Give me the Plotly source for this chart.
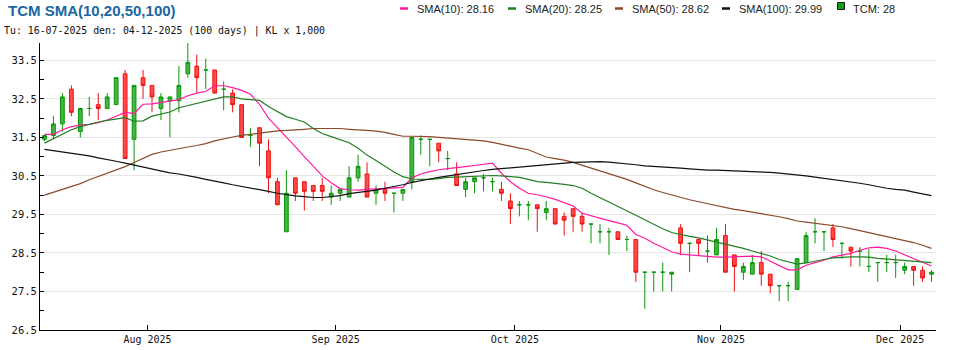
import pandas as pd
import plotly.graph_objects as go

# Trading sessions (HOSE), 16-07-2025 .. 04-12-2025, National Day holidays removed
dates = [d for d in pd.bdate_range("2025-07-16", "2025-12-04")
         if d.strftime("%Y-%m-%d") not in ("2025-09-01", "2025-09-02")]

# Prices in thousands of VND
opens = [31.45, 31.55, 31.85, 32.75, 31.65, 32.25, 32.35, 32.25, 32.35, 33.15,
         31.45, 33.05, 32.85, 32.25, 32.45, 32.45, 33.15, 33.35, 33.25, 33.25,
         32.75, 32.65, 32.35, 31.55, 31.75, 31.15, 30.35, 29.05, 30.45, 30.35,
         30.25, 30.25, 29.95, 30.05, 29.95, 30.45, 30.55, 30.05, 30.15, 30.05,
         30.05, 30.35, 31.45, 31.45, 31.35, 30.95, 30.55, 30.15, 30.35, 30.45,
         30.35, 30.15, 29.85, 29.75, 29.75, 29.75, 29.55, 29.65, 29.45, 29.65,
         29.45, 29.25, 29.05, 29.05, 29.05, 28.85, 28.85, 28.00, 28.00, 28.00,
         27.95, 29.15, 28.75, 28.85, 28.55, 28.45, 28.95, 28.45, 28.00, 27.95,
         28.25, 27.95, 27.65, 27.65, 27.55, 28.25, 29.05, 29.05, 29.15, 28.75,
         28.65, 28.55, 28.15, 28.25, 28.25, 28.25, 28.05, 28.15, 28.05, 27.95]
highs = [31.55, 32.05, 32.65, 32.85, 32.25, 32.55, 32.65, 32.65, 33.05, 33.25,
         32.85, 33.25, 32.85, 32.65, 32.55, 33.35, 33.95, 33.65, 33.55, 33.25,
         32.95, 32.75, 32.35, 31.75, 31.75, 31.45, 30.45, 30.65, 30.45, 30.35,
         30.25, 30.45, 30.25, 30.15, 30.75, 31.05, 30.85, 30.25, 30.35, 30.05,
         30.15, 31.50, 31.55, 31.45, 31.35, 31.15, 30.85, 30.45, 30.45, 30.55,
         30.45, 30.35, 30.05, 29.85, 29.85, 29.75, 29.85, 29.65, 29.55, 29.65,
         29.55, 29.25, 29.25, 29.15, 29.05, 28.95, 28.85, 28.00, 28.00, 28.25,
         28.00, 29.25, 28.75, 28.85, 28.95, 29.15, 29.25, 28.45, 28.25, 28.45,
         28.55, 27.95, 27.65, 27.75, 28.35, 29.05, 29.40, 29.05, 29.25, 28.75,
         28.65, 28.65, 28.60, 28.25, 28.45, 28.45, 28.25, 28.15, 28.15, 28.05]
lows = [31.40, 31.45, 31.65, 32.05, 31.50, 32.05, 31.95, 32.25, 32.35, 30.95,
        30.65, 32.50, 32.15, 31.95, 31.50, 32.15, 33.05, 32.65, 32.75, 32.65,
        32.20, 32.15, 31.50, 31.25, 30.75, 30.05, 29.75, 29.05, 29.85, 29.60,
        29.85, 29.85, 29.75, 29.85, 29.95, 30.35, 29.95, 29.75, 29.85, 29.55,
        29.85, 30.15, 31.05, 30.75, 30.85, 30.65, 30.25, 29.95, 30.05, 30.10,
        30.10, 29.85, 29.25, 29.45, 29.35, 29.05, 29.35, 29.25, 28.95, 29.05,
        29.05, 28.75, 28.75, 28.45, 28.85, 28.55, 27.75, 27.05, 27.50, 27.50,
        27.50, 28.45, 28.00, 28.45, 28.25, 28.45, 28.00, 27.50, 27.80, 27.95,
        27.65, 27.45, 27.25, 27.25, 27.55, 28.25, 28.75, 28.55, 28.65, 28.35,
        28.15, 28.15, 28.00, 27.75, 28.00, 27.85, 27.95, 27.65, 27.75, 27.75]
closes = [31.55, 31.85, 32.55, 32.15, 32.25, 32.25, 32.25, 32.55, 33.05, 30.95,
          32.85, 32.85, 32.55, 32.55, 32.55, 32.85, 33.45, 33.05, 33.25, 32.65,
          32.75, 32.35, 31.50, 31.55, 31.35, 30.45, 29.75, 30.05, 30.05, 30.10,
          30.10, 30.10, 30.05, 30.15, 30.45, 30.75, 29.95, 30.15, 30.05, 30.05,
          30.15, 31.50, 31.45, 31.45, 31.15, 30.95, 30.25, 30.35, 30.45, 30.45,
          30.35, 30.05, 29.65, 29.75, 29.75, 29.65, 29.65, 29.25, 29.35, 29.45,
          29.25, 29.25, 29.05, 29.05, 28.85, 28.85, 28.00, 28.00, 28.00, 28.00,
          28.00, 28.75, 28.75, 28.75, 28.55, 28.85, 28.00, 28.15, 28.15, 28.25,
          27.95, 27.65, 27.65, 27.65, 28.35, 28.95, 29.05, 29.05, 28.85, 28.75,
          28.55, 28.55, 28.15, 28.25, 28.25, 28.25, 28.15, 28.05, 27.85, 28.00]

sma10 = [31.58, 31.58, 31.70, 31.78, 31.82, 31.84, 31.88, 31.95, 32.05, 32.15,
         32.12, 32.36, 32.37, 32.40, 32.44, 32.48, 32.58, 32.65, 32.69, 32.84,
         32.84, 32.79, 32.72, 32.62, 32.36, 32.00, 31.76, 31.50, 31.26, 31.00,
         30.74, 30.50, 30.32, 30.17, 30.14, 30.13, 30.15, 30.16, 30.18, 30.19,
         30.20, 30.45, 30.55, 30.61, 30.66, 30.69, 30.71, 30.74, 30.77, 30.80,
         30.83, 30.57, 30.35, 30.18, 30.05, 30.01, 29.96, 29.89, 29.80, 29.72,
         29.53, 29.46, 29.40, 29.34, 29.28, 29.22, 28.98, 28.88, 28.75, 28.63,
         28.53, 28.47, 28.45, 28.42, 28.40, 28.39, 28.39, 28.40, 28.40, 28.42,
         28.40, 28.29, 28.18, 28.06, 28.06, 28.18, 28.25, 28.31, 28.40, 28.45,
         28.49, 28.57, 28.63, 28.65, 28.62, 28.55, 28.45, 28.36, 28.27, 28.16]
sma20 = [31.35, 31.47, 31.58, 31.70, 31.78, 31.84, 31.90, 31.94, 31.97, 32.01,
         31.92, 31.93, 32.05, 32.10, 32.16, 32.27, 32.33, 32.38, 32.44, 32.50,
         32.55, 32.55, 32.50, 32.48, 32.46, 32.30, 32.16, 32.04, 31.97, 31.90,
         31.73, 31.60, 31.52, 31.45, 31.36, 31.22, 31.04, 30.90, 30.75, 30.60,
         30.48, 30.42, 30.41, 30.41, 30.43, 30.46, 30.47, 30.48, 30.49, 30.50,
         30.51, 30.50, 30.48, 30.46, 30.41, 30.35, 30.33, 30.31, 30.28, 30.25,
         30.18, 30.05, 29.94, 29.83, 29.71, 29.61, 29.48, 29.36, 29.24, 29.13,
         29.03, 28.97, 28.93, 28.89, 28.84, 28.79, 28.74, 28.68, 28.62, 28.55,
         28.49, 28.42, 28.33, 28.26, 28.21, 28.24, 28.29, 28.33, 28.37, 28.39,
         28.40, 28.40, 28.39, 28.36, 28.34, 28.32, 28.30, 28.29, 28.27, 28.25]
sma50 = [30.00, 30.07, 30.14, 30.21, 30.30, 30.40, 30.48, 30.56, 30.65, 30.74,
         30.85, 30.96, 31.06, 31.12, 31.17, 31.21, 31.25, 31.29, 31.34, 31.41,
         31.47, 31.51, 31.55, 31.58, 31.62, 31.65, 31.67, 31.68, 31.69, 31.71,
         31.73, 31.73, 31.73, 31.73, 31.71, 31.70, 31.68, 31.66, 31.63, 31.58,
         31.53, 31.53, 31.53, 31.52, 31.50, 31.48, 31.47, 31.45, 31.43, 31.41,
         31.37, 31.32, 31.26, 31.22, 31.18, 31.08, 30.99, 30.95, 30.91, 30.85,
         30.78, 30.71, 30.63, 30.55, 30.49, 30.41, 30.32, 30.22, 30.14, 30.07,
         30.00, 29.94, 29.88, 29.83, 29.78, 29.72, 29.68, 29.63, 29.60, 29.56,
         29.53, 29.49, 29.44, 29.39, 29.33, 29.30, 29.27, 29.25, 29.22, 29.18,
         29.13, 29.08, 29.03, 28.98, 28.93, 28.88, 28.84, 28.77, 28.70, 28.62]
sma100 = [31.19, 31.16, 31.13, 31.09, 31.06, 31.02, 30.97, 30.93, 30.88, 30.83,
          30.78, 30.72, 30.68, 30.63, 30.58, 30.55, 30.51, 30.46, 30.41, 30.37,
          30.32, 30.27, 30.23, 30.19, 30.14, 30.10, 30.05, 30.01, 29.98, 29.96,
          29.94, 29.94, 29.96, 29.99, 30.04, 30.07, 30.10, 30.13, 30.18, 30.22,
          30.27, 30.33, 30.38, 30.42, 30.46, 30.50, 30.54, 30.57, 30.60, 30.64,
          30.67, 30.69, 30.71, 30.74, 30.76, 30.78, 30.80, 30.81, 30.83, 30.85,
          30.86, 30.87, 30.87, 30.86, 30.84, 30.82, 30.79, 30.76, 30.75, 30.73,
          30.72, 30.70, 30.68, 30.66, 30.65, 30.65, 30.64, 30.64, 30.63, 30.62,
          30.60, 30.59, 30.57, 30.55, 30.53, 30.50, 30.47, 30.44, 30.41, 30.38,
          30.34, 30.31, 30.27, 30.22, 30.18, 30.15, 30.13, 30.08, 30.04, 29.99]

assert len(dates) == len(opens) == len(closes) == 100

# Sessions are plotted by index so that weekends/holidays leave no gaps
idx = list(range(len(dates)))
labels = [d.strftime("%d-%m-%Y") for d in dates]

UP_LINE, UP_FILL = "#0a960a", "#44b444"
DN_LINE, DN_FILL = "#ee1111", "#ff4a4a"

fig = go.Figure()

# Up (and unchanged) sessions are green, down sessions red
groups = [
    ([i for i in idx if closes[i] >= opens[i]], UP_LINE, UP_FILL),
    ([i for i in idx if closes[i] < opens[i]], DN_LINE, DN_FILL),
]
for sel, lc, fc in groups:
    style = dict(line=dict(color=lc, width=1), fillcolor=fc)
    fig.add_trace(go.Candlestick(
        x=sel,
        open=[opens[i] for i in sel], high=[highs[i] for i in sel],
        low=[lows[i] for i in sel], close=[closes[i] for i in sel],
        text=[labels[i] for i in sel],
        increasing=style, decreasing=style,
        whiskerwidth=0, showlegend=False, hoverinfo="text+y",
    ))

sma_series = [
    ("SMA(10)", sma10, "#ff1aa0"),
    ("SMA(20)", sma20, "#217f21"),
    ("SMA(50)", sma50, "#8b4a2b"),
    ("SMA(100)", sma100, "#111111"),
]
for name, vals, color in sma_series:
    fig.add_trace(go.Scatter(x=idx, y=vals, mode="lines", name=name,
                             line=dict(color=color, width=1.2),
                             showlegend=False, hoverinfo="skip"))

# Month boundaries on the session axis
tickvals, ticktext = [], []
for i in idx[1:]:
    if dates[i].month != dates[i - 1].month:
        tickvals.append(i - 0.5)
        ticktext.append(dates[i].strftime("%b %Y"))

# Pixel geometry of the plotting area
W, H = 970, 350
L, R, T, B = 40, 936, 43, 330


def fx(px):
    return (px - L) / (R - L)


def fy(py):
    return (B - py) / (B - T)


MONO = "DejaVu Sans Mono"
SANS = "Liberation Sans, Arial, sans-serif"

annotations = [
    dict(text="<b>TCM SMA(10,20,50,100)</b>", x=fx(6), y=fy(10),
         font=dict(family=SANS, size=15, color="#1b67a2")),
    dict(text=f"Tu: {labels[0]} den: {labels[-1]} ({len(dates)} days) | KL x 1,000",
         x=fx(2), y=fy(31), font=dict(family=MONO, size=9.9, color="#111111")),
]
shapes = []

# Legend row along the top edge
legend_items = [(f"{n}: {v[-1]:.2f}", c) for n, v, c in sma_series]
dash_x = [400, 508, 615, 722]
for (txt, color), x0 in zip(legend_items, dash_x):
    shapes.append(dict(type="line", xref="paper", yref="paper",
                       x0=fx(x0), x1=fx(x0 + 8), y0=fy(8.5), y1=fy(8.5),
                       line=dict(color=color, width=2.5)))
    annotations.append(dict(text=txt, x=fx(x0 + 15), y=fy(8.5),
                            font=dict(family=SANS, size=11, color="#222222")))
shapes.append(dict(type="rect", xref="paper", yref="paper",
                   x0=fx(837.5), x1=fx(844.5), y0=fy(2.5), y1=fy(9.5),
                   line=dict(color="#111111", width=1), fillcolor="#11a011"))
annotations.append(dict(text=f"TCM: {closes[-1]:g}", x=fx(851), y=fy(8.5),
                        font=dict(family=SANS, size=11, color="#222222")))

for a in annotations:
    a.update(xref="paper", yref="paper", xanchor="left", yanchor="middle",
             showarrow=False)

fig.update_layout(
    width=W, height=H,
    margin=dict(l=L, r=W - R, t=T, b=H - B, pad=0, autoexpand=False),
    paper_bgcolor="white", plot_bgcolor="white",
    boxgap=0.4,
    annotations=annotations, shapes=shapes,
    xaxis=dict(
        range=[-0.5, len(dates) - 0.5], automargin=False,
        tickmode="array", tickvals=tickvals, ticktext=ticktext,
        ticks="inside", ticklen=5, tickcolor="#000000",
        showline=True, linecolor="#000000", linewidth=1,
        showgrid=False, zeroline=False,
        rangeslider=dict(visible=False),
        tickfont=dict(family=MONO, size=10, color="#111111"),
    ),
    yaxis=dict(
        range=[26.5, 33.95], automargin=False,
        tick0=26.5, dtick=1, tickformat=".1f",
        ticks="inside", ticklen=4, tickcolor="#000000",
        minor=dict(tick0=26.5, dtick=0.5, ticks="inside", ticklen=4,
                   tickcolor="#000000", showgrid=False),
        showline=True, linecolor="#000000", linewidth=1,
        showgrid=True, gridcolor="#e6e6e6", gridwidth=1, zeroline=False,
        tickfont=dict(family=MONO, size=10.5, color="#111111"),
    ),
)

fig.write_html("out.html")
